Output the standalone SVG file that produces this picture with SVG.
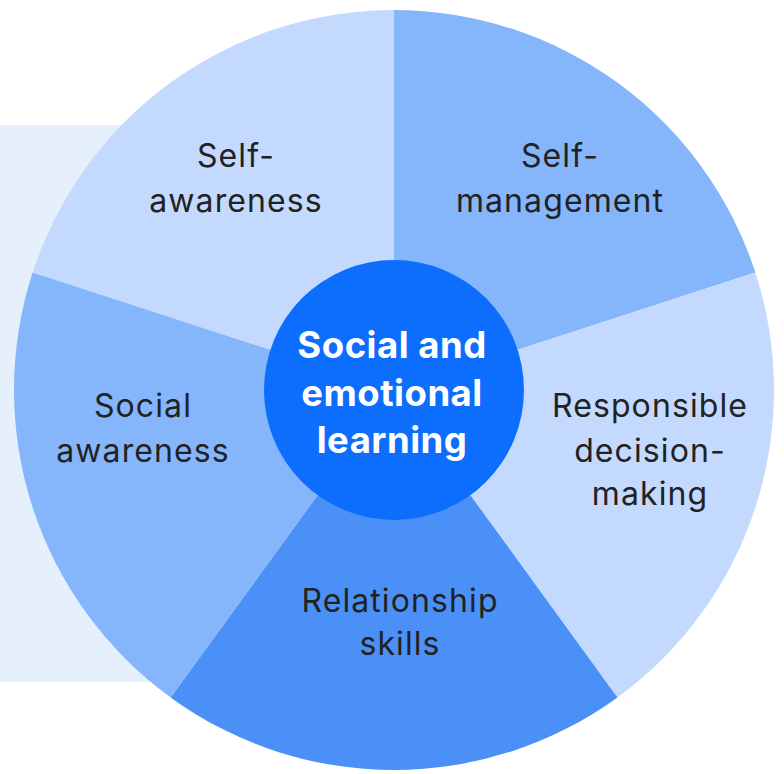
<svg xmlns="http://www.w3.org/2000/svg" width="784" height="774" viewBox="0 0 784 774">
<style>
.lbl{font-family:Inter,"Noto Sans","Liberation Sans",sans-serif;font-size:32px;fill:#222;text-anchor:middle;letter-spacing:1.1px}
.ctr{font-family:Inter,"Noto Sans","Liberation Sans",sans-serif;font-size:36.5px;font-weight:700;fill:#fff;text-anchor:middle;letter-spacing:0.5px}
.light{fill:#c3dafe}
.mid{fill:#85b6fc}
.dark{fill:#4a90f7}
</style>
<rect x="0" y="125" width="400" height="557" fill="#e6f0fd"/>
<g id="self-awareness">
<path class="light" d="M394,390 L394,10 A380,380 0 0 0 32.6,272.6 Z"/>
<text class="lbl"><tspan x="236" y="167">Self-</tspan><tspan x="236" y="212">awareness</tspan></text>
</g>
<g id="self-management">
<path class="mid" d="M394,390 L394,10 A380,380 0 0 1 755.4,272.6 Z"/>
<text class="lbl"><tspan x="560" y="167">Self-</tspan><tspan x="560" y="212">management</tspan></text>
</g>
<g id="responsible-decision-making">
<path class="light" d="M394,390 L755.4,272.6 A380,380 0 0 1 617.4,697.4 Z"/>
<text class="lbl"><tspan x="650" y="417">Responsible</tspan><tspan x="650" y="462">decision-</tspan><tspan x="650" y="505">making</tspan></text>
</g>
<g id="relationship-skills">
<path class="dark" d="M394,390 L617.4,697.4 A380,380 0 0 1 170.6,697.4 Z"/>
<text class="lbl"><tspan x="400" y="612">Relationship</tspan><tspan x="400" y="655">skills</tspan></text>
</g>
<g id="social-awareness">
<path class="mid" d="M394,390 L170.6,697.4 A380,380 0 0 1 32.6,272.6 Z"/>
<text class="lbl"><tspan x="143" y="417">Social</tspan><tspan x="143" y="462">awareness</tspan></text>
</g>
<g id="connectors"></g>
<g id="center">
<circle cx="394" cy="390" r="130" fill="#0d6efd"/>
<text class="ctr"><tspan x="392" y="358">Social and</tspan><tspan x="392" y="406">emotional</tspan><tspan x="392" y="453">learning</tspan></text>
</g>
</svg>
